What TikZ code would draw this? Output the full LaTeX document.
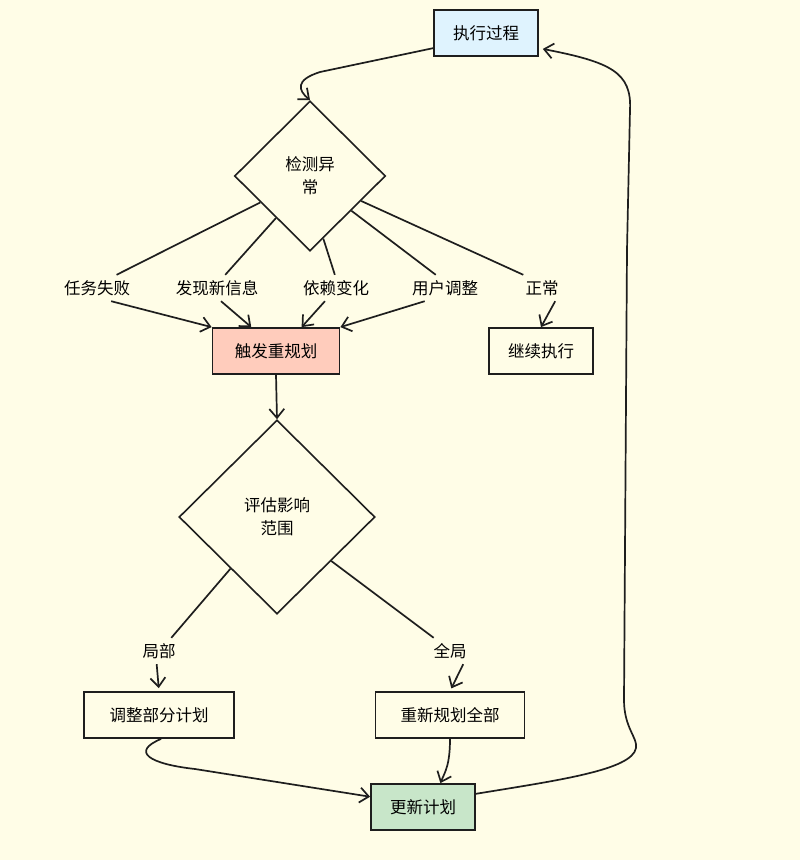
\documentclass[tikz,border=0pt]{standalone}
\usepackage{fontspec}
\setmainfont{Noto Sans CJK SC}
\usetikzlibrary{shapes.geometric,arrows.meta}

\definecolor{fondo}{HTML}{FFFDE7}
\definecolor{trazo}{HTML}{1E1E1E}
\definecolor{azul}{HTML}{DFF3FE}
\definecolor{salmon}{HTML}{FFCCBC}
\definecolor{verde}{HTML}{C8E6C9}

\begin{document}
\begin{tikzpicture}[x=1pt,y=-1pt,
        caja/.style={draw=trazo,line width=1.8pt,minimum height=46pt,inner sep=0pt,font=\fontsize{16.5}{20}\selectfont},
        rombo/.style={draw=trazo,line width=1.6pt,diamond,aspect=1,inner sep=0pt,align=center,fill=fondo,font=\fontsize{16.5}{23}\selectfont},
        etiq/.style={inner sep=2pt,minimum height=26pt,font=\fontsize{16.5}{20}\selectfont},
        linea/.style={draw=trazo,line width=1.7pt},
        flecha/.style={linea,-{Straight Barb[length=9pt,width=15pt]}}]
        % Fondo y marco del dibujo.
        \useasboundingbox (0,0) rectangle (800,860);
        \fill[fondo] (0,0) rectangle (800,860);

        % Nodos principales del flujo.
        \node[caja,fill=azul,minimum width=104pt] (exe) at (486,33) {执行过程};
        \node[rombo,minimum width=151pt,minimum height=150pt] (chk) at (310,176) {检测异\\常};
        \node[caja,fill=salmon,minimum width=127pt] (trig) at (276,351) {触发重规划};
        \node[caja,minimum width=104pt] (cont) at (541,351) {继续执行};
        \node[rombo,minimum width=196pt,minimum height=194pt] (eval) at (277,517) {评估影响\\范围};
        \node[caja,minimum width=150pt] (part) at (159,715) {调整部分计划};
        \node[caja,minimum width=149pt] (full) at (450,715) {重新规划全部};
        \node[caja,fill=verde,minimum width=104pt] (upd) at (423,807) {更新计划};

        % Etiquetas de las ramas.
        \node[etiq] (lfail) at (97,288) {任务失败};
        \node[etiq] (lnew) at (217,288) {发现新信息};
        \node[etiq] (ldep) at (336,288) {依赖变化};
        \node[etiq] (luser) at (445,288) {用户调整};
        \node[etiq] (lok) at (542,288) {正常};
        \node[etiq] (lloc) at (159,651) {局部};
        \node[etiq] (lglob) at (450,651) {全局};

        % Entrada a la deteccion.
        \draw[flecha] (exe.196) -- (320,72) .. controls (295,80) and (298,90) .. (chk.north);

        % Ramas de la deteccion.
        \draw[linea] (chk.208) -- (lfail.34);
        \draw[linea] (chk.231) -- (lnew.58);
        \draw[linea] (chk.282) -- (ldep.95);
        \draw[linea] (chk.320) -- (luser.125);
        \draw[linea] (chk.334) -- (lok.north west);
        \draw[flecha] (lfail.-43) -- (trig.north west);
        \draw[flecha] (lnew.-73) -- (trig.136);
        \draw[flecha] (ldep.-130) -- (trig.43);
        \draw[flecha] (luser.-147) -- (trig.north east);
        \draw[flecha] (lok.-45) -- (cont.north);

        % Evaluacion del alcance.
        \draw[flecha] (trig.south) -- (eval.north);
        \draw[linea] (eval.228) -- (lloc.47);
        \draw[linea] (eval.321) -- (lglob.141);
        \draw[flecha,shorten >=3pt] (lloc.-100) -- (part.north);
        \draw[flecha,shorten >=3pt] (lglob.-45) -- (full.north);

        % Actualizacion del plan.
        \draw[flecha] (part.-85) .. controls (130,752) and (150,764) .. (195,769) -- (upd.169);
        \draw[flecha] (full.south) .. controls (450,765) and (445,772) .. (upd.54);

        % Vuelta a la ejecucion.
        \draw[flecha,shorten >=4pt] (upd.14) .. controls (560,780) and (632,770) .. (636,748)
            .. controls (638,738) and (624,728) .. (624,700) -- (627,250) -- (630,110)
            .. controls (632,72) and (610,62) .. (exe.-16);
    \end{tikzpicture}
\end{document}
